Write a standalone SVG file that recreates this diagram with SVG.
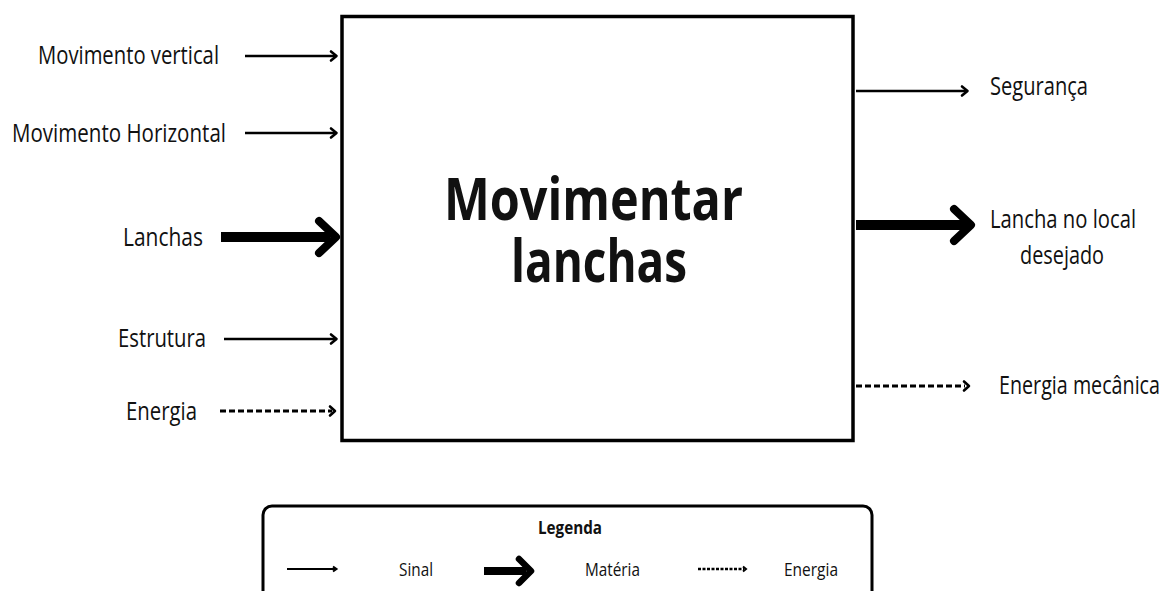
<svg xmlns="http://www.w3.org/2000/svg" width="1168" height="591" viewBox="0 0 1168 591">
<defs>
<style>
.lbl{font-family:"Open Sans","Liberation Sans",sans-serif;font-size:25px;fill:#111;}
.ttl{font-family:"Open Sans","Liberation Sans",sans-serif;font-size:59px;font-weight:bold;fill:#111;}
.leg{font-family:"Open Sans","Liberation Sans",sans-serif;font-size:18px;fill:#111;}
.sig{stroke:#000;stroke-width:2.6;fill:none;}
.mat{stroke:#000;stroke-width:10;fill:none;}
.en{stroke:#000;stroke-width:3.2;fill:none;stroke-dasharray:6 3;}
.head{stroke:#000;stroke-width:2.6;fill:none;stroke-linecap:round;stroke-linejoin:round;}
.headT{stroke:#000;stroke-width:8;fill:none;stroke-linecap:round;stroke-linejoin:round;}
.box{fill:#fff;stroke:#000;stroke-width:3.5;}
</style>
</defs>
<rect width="1168" height="591" fill="#fff"/>
<g id="main">
<rect class="box" x="342" y="16.5" width="511" height="424"/>
<text class="ttl" x="444" y="220" textLength="299" lengthAdjust="spacingAndGlyphs">Movimentar</text>
<text class="ttl" x="511" y="282" textLength="176" lengthAdjust="spacingAndGlyphs">lanchas</text>
</g>
<g id="in-vertical"><text class="lbl" x="38" y="64" textLength="181" lengthAdjust="spacingAndGlyphs">Movimento vertical</text></g>
<g id="in-horizontal"><text class="lbl" x="12" y="142" textLength="214" lengthAdjust="spacingAndGlyphs">Movimento Horizontal</text></g>
<g id="in-lanchas"><text class="lbl" x="123" y="246" textLength="80" lengthAdjust="spacingAndGlyphs">Lanchas</text></g>
<g id="in-estrutura"><text class="lbl" x="118" y="347" textLength="88" lengthAdjust="spacingAndGlyphs">Estrutura</text></g>
<g id="in-energia"><text class="lbl" x="126" y="420" textLength="71" lengthAdjust="spacingAndGlyphs">Energia</text></g>
<g id="out-seguranca"><text class="lbl" x="990" y="95" textLength="98" lengthAdjust="spacingAndGlyphs">Segurança</text></g>
<g id="out-lancha"><text class="lbl" x="990" y="228" textLength="146" lengthAdjust="spacingAndGlyphs">Lancha no local</text><text class="lbl" x="1020" y="264" textLength="84" lengthAdjust="spacingAndGlyphs">desejado</text></g>
<g id="out-energia"><text class="lbl" x="999" y="394" textLength="161" lengthAdjust="spacingAndGlyphs">Energia mecânica</text></g>
<g id="connectors">
<line class="sig" x1="245" y1="56" x2="336" y2="56"/><polyline class="head" points="331,51.5 336.5,56 331,60.5"/>
<line class="sig" x1="245" y1="133" x2="336" y2="133"/><polyline class="head" points="331,128.5 336.5,133 331,137.5"/>
<line class="mat" x1="221" y1="237" x2="330" y2="237"/><polyline class="headT" points="319,221 336,237 319,253"/>
<line class="sig" x1="224" y1="339" x2="336" y2="339"/><polyline class="head" points="331,334.5 336.5,339 331,343.5"/>
<line class="en" x1="220" y1="411" x2="332" y2="411"/><polyline class="head" points="330,406.5 335,411 330,415.5"/>
<line class="sig" x1="856" y1="91" x2="967" y2="91"/><polyline class="head" points="962,86.5 967.5,91 962,95.5"/>
<line class="mat" x1="856" y1="225" x2="966" y2="225"/><polyline class="headT" points="954,209 971,225 954,241"/>
<line class="en" x1="856" y1="386" x2="965" y2="386"/><polyline class="head" points="964,381.5 969,386 964,390.5"/>
</g>
<g id="legend">
<rect x="263" y="506" width="609" height="110" rx="9" fill="#fff" stroke="#000" stroke-width="3"/>
<text class="leg" x="570" y="534" text-anchor="middle" font-weight="bold" textLength="64" lengthAdjust="spacingAndGlyphs">Legenda</text>
<line x1="287" y1="569" x2="335" y2="569" stroke="#000" stroke-width="2"/><polyline points="333,566.5 336.5,569 333,571.5" fill="none" stroke="#000" stroke-width="2"/>
<text class="leg" x="399" y="576" textLength="34" lengthAdjust="spacingAndGlyphs">Sinal</text>
<line x1="484" y1="571" x2="526" y2="571" stroke="#000" stroke-width="8"/><polyline points="519,559 531,571 519,583" fill="none" stroke="#000" stroke-width="6.5" stroke-linecap="round" stroke-linejoin="round"/>
<text class="leg" x="585" y="576" textLength="55" lengthAdjust="spacingAndGlyphs">Matéria</text>
<line x1="698" y1="569" x2="744" y2="569" stroke="#000" stroke-width="2.4" stroke-dasharray="3 1.5"/><polyline points="743,566.5 746,569 743,571.5" fill="none" stroke="#000" stroke-width="2"/>
<text class="leg" x="784" y="576" textLength="54" lengthAdjust="spacingAndGlyphs">Energia</text>
</g>
</svg>
